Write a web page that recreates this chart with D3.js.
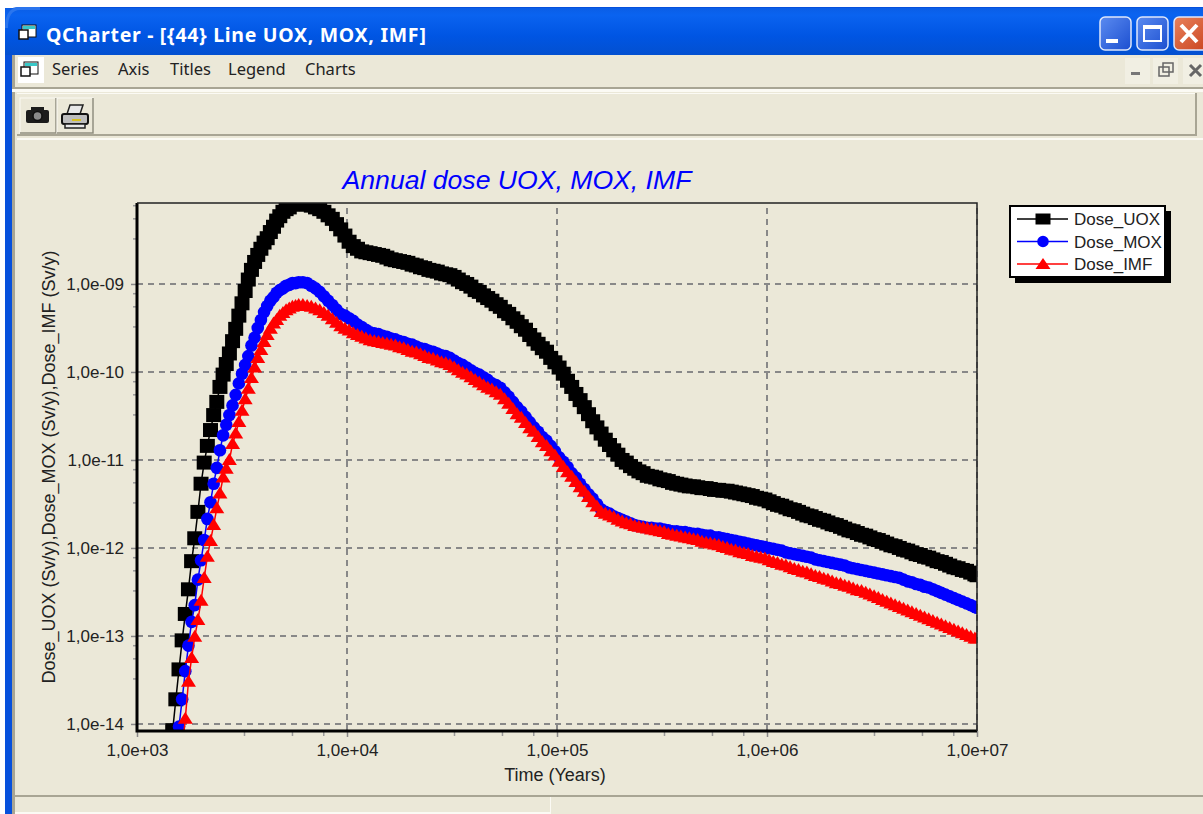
<!DOCTYPE html>
<html lang="en">
<head>
<meta charset="UTF-8">
<title>QCharter - Annual dose UOX, MOX, IMF</title>
<script src="https://d3js.org/d3.v7.min.js"></script>
<style>
html, body { margin: 0; padding: 0; background: #fff; overflow: hidden; }
svg { display: block; }
</style>
</head>
<body>
<svg id="chart" width="1203" height="814"></svg>
<script>
// log10 of time in years, shared by the three series
const logYears = [3.00,
3.170,3.185,3.200,3.215,3.230,3.245,3.260,3.275,3.290,3.305,
3.320,3.335,3.350,3.365,3.380,3.395,3.410,3.425,3.440,3.455,
3.470,3.485,3.500,3.515,3.530,3.545,3.560,3.575,3.590,3.605,
3.620,3.635,3.650,3.665,3.680,3.695,3.710,3.725,3.740,3.755,
3.770,
3.79,3.81,3.83,3.85,3.87,3.89,3.91,3.93,3.95,3.97,
3.99,4.01,4.03,4.05,4.07,4.09,4.11,4.13,4.15,4.17,
4.19,4.21,4.23,4.25,4.27,4.29,4.31,4.33,4.35,4.37,
4.39,4.41,4.43,4.45,4.47,4.49,4.51,4.53,4.55,4.57,
4.59,4.61,4.63,4.65,4.67,4.69,4.71,4.73,4.75,4.77,
4.79,4.81,4.83,4.85,4.87,4.89,4.91,4.93,4.95,4.97,
4.99,5.01,5.03,5.05,5.07,5.09,5.11,5.13,5.15,5.17,
5.19,5.21,5.23,5.25,5.27,5.29,5.31,5.33,5.35,5.37,
5.39,5.41,5.43,5.45,5.47,5.49,5.51,5.53,5.55,5.57,
5.59,5.61,5.63,5.65,5.67,5.69,5.71,5.73,5.75,5.77,
5.79,5.81,5.83,5.85,5.87,5.89,5.91,5.93,5.95,5.97,
5.99,6.01,6.03,6.05,6.07,6.09,6.11,6.13,6.15,6.17,
6.19,6.21,6.23,6.25,6.27,6.29,6.31,6.33,6.35,6.37,
6.39,6.41,6.43,6.45,6.47,6.49,6.51,6.53,6.55,6.57,
6.59,6.61,6.63,6.65,6.67,6.69,6.71,6.73,6.75,6.77,
6.79,6.81,6.83,6.85,6.87,6.89,6.91,6.93,6.95,6.97,
6.99,7.00];

// log10 of the dose (Sv/y)
const doseUox = [-16.0,
-14.07,-13.72,-13.38,-13.05,-12.75,-12.47,-12.15,-11.89,-11.59,-11.27,
-11.03,-10.84,-10.66,-10.49,-10.34,-10.17,-10.03,-9.91,-9.79,-9.65,
-9.51,-9.36,-9.22,-9.08,-8.95,-8.84,-8.75,-8.67,-8.60,-8.53,
-8.48,-8.41,-8.35,-8.28,-8.23,-8.18,-8.15,-8.13,-8.10,-8.09,
-8.09,
-8.09,-8.10,-8.11,-8.13,-8.15,-8.18,-8.22,-8.26,-8.32,-8.38,
-8.45,-8.52,-8.57,-8.60,-8.63,-8.64,-8.65,-8.66,-8.67,-8.68,
-8.70,-8.72,-8.73,-8.74,-8.75,-8.76,-8.78,-8.79,-8.81,-8.82,
-8.84,-8.85,-8.86,-8.88,-8.89,-8.90,-8.92,-8.95,-8.98,-9.00,
-9.03,-9.07,-9.09,-9.13,-9.16,-9.19,-9.23,-9.26,-9.31,-9.34,
-9.39,-9.43,-9.48,-9.52,-9.58,-9.63,-9.68,-9.73,-9.77,-9.84,
-9.89,-9.95,-10.02,-10.10,-10.17,-10.25,-10.32,-10.40,-10.48,-10.56,
-10.63,-10.70,-10.77,-10.83,-10.89,-10.94,-11.00,-11.03,-11.07,-11.10,
-11.13,-11.15,-11.18,-11.19,-11.20,-11.22,-11.23,-11.24,-11.26,-11.27,
-11.28,-11.29,-11.30,-11.30,-11.31,-11.32,-11.32,-11.33,-11.34,-11.34,
-11.35,-11.35,-11.36,-11.37,-11.38,-11.39,-11.40,-11.41,-11.43,-11.44,
-11.45,-11.47,-11.49,-11.51,-11.52,-11.54,-11.56,-11.57,-11.59,-11.61,
-11.63,-11.64,-11.66,-11.68,-11.69,-11.71,-11.73,-11.74,-11.76,-11.78,
-11.80,-11.81,-11.83,-11.85,-11.86,-11.88,-11.90,-11.91,-11.93,-11.95,
-11.97,-11.98,-12.00,-12.02,-12.03,-12.05,-12.07,-12.08,-12.10,-12.11,
-12.13,-12.15,-12.16,-12.18,-12.20,-12.22,-12.23,-12.25,-12.26,-12.28,
-12.30,-12.31];

const doseMox = [-14.15,
-14.64,-14.32,-14.03,-13.72,-13.40,-13.11,-12.84,-12.65,-12.36,-12.14,
-11.91,-11.67,-11.48,-11.27,-11.09,-10.89,-10.72,-10.60,-10.49,-10.38,
-10.26,-10.13,-10.02,-9.92,-9.82,-9.70,-9.61,-9.50,-9.41,-9.32,
-9.25,-9.19,-9.15,-9.10,-9.07,-9.05,-9.02,-9.01,-8.99,-8.99,
-8.98,
-8.98,-8.99,-9.02,-9.05,-9.09,-9.14,-9.19,-9.24,-9.29,-9.34,
-9.36,-9.39,-9.42,-9.46,-9.49,-9.52,-9.55,-9.56,-9.57,-9.59,
-9.60,-9.62,-9.63,-9.65,-9.66,-9.68,-9.69,-9.71,-9.73,-9.74,
-9.76,-9.77,-9.79,-9.81,-9.82,-9.84,-9.87,-9.90,-9.92,-9.95,
-9.98,-10.01,-10.03,-10.06,-10.09,-10.13,-10.15,-10.18,-10.23,-10.28,
-10.34,-10.40,-10.45,-10.51,-10.57,-10.63,-10.68,-10.74,-10.78,-10.84,
-10.90,-10.97,-11.02,-11.08,-11.15,-11.20,-11.27,-11.33,-11.39,-11.44,
-11.50,-11.56,-11.59,-11.61,-11.64,-11.66,-11.68,-11.70,-11.72,-11.74,
-11.75,-11.76,-11.77,-11.77,-11.78,-11.78,-11.79,-11.80,-11.81,-11.81,
-11.82,-11.82,-11.83,-11.84,-11.84,-11.85,-11.86,-11.86,-11.88,-11.88,
-11.89,-11.90,-11.91,-11.92,-11.93,-11.94,-11.95,-11.96,-11.97,-11.98,
-11.99,-12.00,-12.01,-12.02,-12.03,-12.05,-12.06,-12.07,-12.08,-12.09,
-12.10,-12.11,-12.13,-12.14,-12.15,-12.16,-12.17,-12.18,-12.19,-12.20,
-12.22,-12.23,-12.24,-12.25,-12.26,-12.27,-12.28,-12.29,-12.30,-12.31,
-12.32,-12.33,-12.34,-12.36,-12.38,-12.39,-12.41,-12.42,-12.44,-12.45,
-12.47,-12.49,-12.51,-12.53,-12.55,-12.57,-12.59,-12.61,-12.63,-12.65,
-12.67,-12.68];

const doseImf = [-16.0,
-15.66,-15.20,-14.75,-14.30,-13.94,-13.52,-13.25,-13.01,-12.82,-12.60,
-12.34,-12.10,-11.92,-11.74,-11.55,-11.38,-11.20,-11.10,-11.00,-10.82,
-10.70,-10.57,-10.44,-10.31,-10.19,-10.07,-9.95,-9.84,-9.75,-9.66,
-9.58,-9.51,-9.45,-9.41,-9.36,-9.33,-9.30,-9.28,-9.26,-9.25,
-9.24,
-9.24,-9.25,-9.26,-9.28,-9.30,-9.33,-9.36,-9.40,-9.44,-9.48,
-9.51,-9.53,-9.56,-9.58,-9.60,-9.62,-9.64,-9.65,-9.66,-9.67,
-9.68,-9.69,-9.70,-9.72,-9.73,-9.75,-9.77,-9.78,-9.80,-9.82,
-9.84,-9.85,-9.87,-9.89,-9.90,-9.92,-9.95,-9.98,-10.01,-10.03,
-10.06,-10.09,-10.12,-10.15,-10.18,-10.20,-10.23,-10.26,-10.31,-10.36,
-10.42,-10.48,-10.52,-10.58,-10.64,-10.68,-10.74,-10.80,-10.84,-10.90,
-10.95,-11.02,-11.08,-11.14,-11.19,-11.25,-11.31,-11.36,-11.42,-11.48,
-11.53,-11.59,-11.61,-11.63,-11.65,-11.68,-11.70,-11.72,-11.73,-11.75,
-11.76,-11.77,-11.78,-11.79,-11.80,-11.81,-11.82,-11.84,-11.85,-11.86,
-11.87,-11.88,-11.89,-11.90,-11.91,-11.93,-11.94,-11.95,-11.96,-11.97,
-11.99,-12.00,-12.02,-12.03,-12.05,-12.06,-12.07,-12.09,-12.10,-12.11,
-12.12,-12.14,-12.16,-12.17,-12.19,-12.20,-12.22,-12.24,-12.25,-12.27,
-12.28,-12.30,-12.32,-12.33,-12.35,-12.36,-12.38,-12.40,-12.41,-12.43,
-12.44,-12.46,-12.48,-12.49,-12.51,-12.53,-12.55,-12.57,-12.59,-12.61,
-12.63,-12.65,-12.67,-12.69,-12.71,-12.73,-12.75,-12.77,-12.79,-12.81,
-12.83,-12.85,-12.87,-12.89,-12.91,-12.93,-12.95,-12.97,-12.99,-13.01,
-13.03,-13.03];

const xTicks = [1e3, 1e4, 1e5, 1e6, 1e7];
const xTickLabels = ["1,0e+03", "1,0e+04", "1,0e+05", "1,0e+06", "1,0e+07"];
const yTicks = [1e-14, 1e-13, 1e-12, 1e-11, 1e-10, 1e-9];
const yTickLabels = ["1,0e-14", "1,0e-13", "1,0e-12", "1,0e-11", "1,0e-10", "1,0e-09"];
const minorSteps = [3.25, 5.5, 7.75];
const menuItems = ["Series", "Axis", "Titles", "Legend", "Charts"];
const menuX = [52, 118, 170, 228, 305];
const seriesNames = ["Dose_UOX", "Dose_MOX", "Dose_IMF"];
const seriesColors = ["#000000", "#0000ff", "#ff0000"];

const svg = d3.select("#chart");
const face = "#ebe8d8";
const uiFont = "'Noto Sans', sans-serif";
const chartFont = "'Liberation Sans', Arial, sans-serif";

// ---- window chrome ----
const defs = svg.append("defs");
const titleGrad = defs.append("linearGradient").attr("id", "titleGrad").attr("x2", 0).attr("y2", 1);
titleGrad.append("stop").attr("offset", 0).attr("stop-color", "#0b5ee6");
titleGrad.append("stop").attr("offset", 0.15).attr("stop-color", "#0a63f0");
titleGrad.append("stop").attr("offset", 0.6).attr("stop-color", "#0055e3");
titleGrad.append("stop").attr("offset", 1).attr("stop-color", "#0350d0");
const edgeGrad = defs.append("linearGradient").attr("id", "btnBlue").attr("x2", 1).attr("y2", 1);
edgeGrad.append("stop").attr("offset", 0).attr("stop-color", "#5b8bf0");
edgeGrad.append("stop").attr("offset", 1).attr("stop-color", "#1c4fd0");
const redGrad = defs.append("linearGradient").attr("id", "btnRed").attr("x2", 1).attr("y2", 1);
redGrad.append("stop").attr("offset", 0).attr("stop-color", "#e8825c");
redGrad.append("stop").attr("offset", 1).attr("stop-color", "#c8401c");

const rect = (x, y, w, h, fill) => svg.append("rect")
    .attr("x", x).attr("y", y).attr("width", w).attr("height", h).attr("fill", fill);

svg.append("path").attr("d", "M5,814V20Q5,7 20,7H1203V814Z").attr("fill", "#0650dc");
rect(5, 8, 1198, 47, "url(#titleGrad)");
rect(12, 55, 1191, 759, "#a8a594");
rect(15, 55, 1188, 759, face);
svg.append("path").attr("d", "M5,28Q5,7 20,7H40V10H20Q8,10 8,28Z").attr("fill", "#2a75ee");

// separators under menu and toolbar
rect(12, 87, 1191, 2, "#a8a594");
rect(12, 89, 1191, 3, "#fbfaf4");
rect(17, 93, 1179, 1, "#fbfaf4");
rect(17, 134, 1179, 2, "#a8a594");
rect(17, 138, 1186, 2, "#fbfaf4");
rect(1195, 93, 2, 43, "#a8a594");

// status bar
rect(15, 795, 1188, 2, "#a8a594");
rect(15, 797, 535, 16, face);
rect(550, 797, 1, 17, "#fbfaf4");
rect(15, 812, 535, 2, "#fbfaf4");

svg.append("text").attr("x", 46).attr("y", 42)
    .attr("textLength", 380).attr("lengthAdjust", "spacing")
    .attr("font-family", uiFont).attr("font-weight", 700).attr("font-size", 19.5)
    .attr("fill", "#fff").text("QCharter - [{44} Line UOX, MOX, IMF]");

svg.append("g").selectAll("text").data(menuItems).join("text")
    .attr("x", (d, i) => menuX[i]).attr("y", 75)
    .attr("font-family", uiFont).attr("font-size", 16.5).attr("fill", "#222")
    .text(d => d);

// app icons (title bar and menu bar)
function appIcon(x, y) {
    rect(x, y, 14, 12, "#fff").attr("stroke", "#111").attr("stroke-width", 1);
    rect(x + 1, y + 1, 12, 3, "#38c8c8");
    rect(x - 3, y + 5, 9, 9, "#fff").attr("stroke", "#111").attr("stroke-width", 1.5);
}
appIcon(22, 25);
rect(18, 57, 26, 26, "#fff");
appIcon(24, 62);

// toolbar buttons
function toolButton(x) {
    rect(x, 98, 36, 35, face).attr("stroke", "#fbfaf4");
    svg.append("path").attr("d", `M${x + 36},98V133H${x}`).attr("fill", "none").attr("stroke", "#8f8c7c").attr("stroke-width", 1.5);
}
toolButton(20);
toolButton(57);
rect(26, 110, 23, 13, "#1c1c1c").attr("rx", 2);
rect(31, 107, 13, 4, "#1c1c1c");
svg.append("circle").attr("cx", 37.5).attr("cy", 116).attr("r", 4.5).attr("fill", "#8a8a8a").attr("stroke", "#111").attr("stroke-width", 1.5);
svg.append("path").attr("d", "M67,114L70,105H83L80,114Z").attr("fill", "#e8e8e8").attr("stroke", "#222").attr("stroke-width", 1.5);
rect(62, 114, 26, 10, "#bdbdbd").attr("stroke", "#111").attr("stroke-width", 2).attr("rx", 2);
rect(65, 124, 20, 4, "#e8e8e8").attr("stroke", "#222").attr("stroke-width", 1.5);
rect(72, 119, 9, 2, "#d8c020");

// window control buttons
function winButton(x, w, fill) {
    rect(x, 17, w, 33, fill).attr("rx", 5).attr("stroke", "#dfe8fb").attr("stroke-width", 1.5);
}
winButton(1100, 31, "url(#btnBlue)");
winButton(1137, 31, "url(#btnBlue)");
winButton(1174, 40, "url(#btnRed)");
rect(1106, 39, 12, 4, "#fff");
rect(1144, 26, 17, 15, "none").attr("stroke", "#fff").attr("stroke-width", 2);
rect(1144, 25, 17, 4, "#fff");
svg.append("path").attr("d", "M1181,25L1197,42M1197,25L1181,42").attr("stroke", "#fff").attr("stroke-width", 4);

// MDI child buttons
[1125, 1153, 1183].forEach(x => rect(x, 58, 25, 26, "#f1efe3"));
rect(1131, 72, 9, 3, "#777");
rect(1159, 67, 10, 9, "none").attr("stroke", "#666").attr("stroke-width", 1.5);
rect(1163, 63, 10, 9, "none").attr("stroke", "#666").attr("stroke-width", 1.5);
svg.append("path").attr("d", "M1190,65L1201,76M1201,65L1190,76").attr("stroke", "#666").attr("stroke-width", 3);

// ---- chart ----
const plot = { left: 137, right: 977, top: 203, bottom: 731 };

const x = d3.scaleLog().domain([1e3, 1e7]).range([plot.left, plot.right]);
const y = d3.scaleLog().domain([Math.pow(10, -14.08), Math.pow(10, -8.08)]).range([plot.bottom, plot.top]);

svg.append("text").attr("x", 517).attr("y", 189).attr("text-anchor", "middle")
    .attr("font-family", chartFont).attr("font-style", "italic").attr("font-size", 26.6)
    .attr("fill", "#0000ff").text("Annual dose UOX, MOX, IMF");

// gridlines
const grid = svg.append("g").attr("stroke", "#888").attr("stroke-width", 2).attr("stroke-dasharray", "6,5");
grid.selectAll(".gx").data(xTicks.slice(1)).join("line").attr("class", "gx")
    .attr("x1", d => x(d)).attr("x2", d => x(d)).attr("y1", plot.bottom).attr("y2", plot.top);
grid.selectAll(".gy").data(yTicks).join("line").attr("class", "gy")
    .attr("x1", plot.left).attr("x2", plot.right).attr("y1", d => y(d)).attr("y2", d => y(d));

defs.append("clipPath").attr("id", "plotClip").append("rect")
    .attr("x", plot.left).attr("y", plot.top)
    .attr("width", plot.right - plot.left).attr("height", plot.bottom - plot.top);

// the reference markers are a bit wider than tall, so draw the boxes by hand
const boxSymbol = (w, h) => ({ draw(ctx) { ctx.rect(-w / 2, -h / 2, w, h); } });
const triSymbol = (w, up, down) => ({
    draw(ctx) {
        ctx.moveTo(0, -up);
        ctx.lineTo(w / 2, down);
        ctx.lineTo(-w / 2, down);
        ctx.closePath();
    }
});
const symbols = [
    d3.symbol().type(boxSymbol(15, 14)),
    d3.symbol().type(d3.symbolCircle).size(125),
    d3.symbol().type(triSymbol(15, 7, 5))
];
const legendSymbols = [
    d3.symbol().type(boxSymbol(15, 11)),
    d3.symbol().type(d3.symbolCircle).size(105),
    d3.symbol().type(triSymbol(15, 6, 5))
];

const line = d3.line().x(d => x(d[0])).y(d => y(d[1]));
const marks = svg.append("g").attr("clip-path", "url(#plotClip)");

[doseUox, doseMox, doseImf].forEach((values, s) => {
    const pts = values.map((v, i) => [Math.pow(10, logYears[i]), Math.pow(10, v)]);
    const g = marks.append("g");
    g.append("path").attr("d", line(pts)).attr("fill", "none")
        .attr("stroke", seriesColors[s]).attr("stroke-width", 1.5);
    g.selectAll("path.m").data(pts).join("path").attr("class", "m")
        .attr("d", symbols[s])
        .attr("fill", seriesColors[s])
        .attr("transform", d => `translate(${x(d[0])},${y(d[1])})`);
});

// axes
const xAxis = svg.append("g").attr("transform", `translate(0,${plot.bottom})`)
    .call(d3.axisBottom(x).tickValues(xTicks).tickFormat((d, i) => xTickLabels[i]).tickSize(6).tickPadding(7));
const yAxis = svg.append("g").attr("transform", `translate(${plot.left},0)`)
    .call(d3.axisLeft(y).tickValues(yTicks).tickFormat((d, i) => yTickLabels[i]).tickSize(6).tickPadding(7));

[xAxis, yAxis].forEach(a => {
    a.select(".domain").remove();
    a.selectAll("line").attr("stroke", "#888").attr("stroke-width", 1.5);
    a.selectAll("text").attr("font-family", chartFont).attr("font-size", 17).attr("fill", "#222");
});

// minor ticks: three per decade
const minorX = xTicks.slice(0, -1).flatMap(t => minorSteps.map(m => t * m));
const minorY = yTicks.flatMap(t => minorSteps.map(m => t * m)).filter(v => y(v) > plot.top);
svg.append("g").attr("stroke", "#999").attr("stroke-width", 1.5).selectAll("line").data(minorX).join("line")
    .attr("x1", d => x(d)).attr("x2", d => x(d)).attr("y1", plot.bottom).attr("y2", plot.bottom + 5);
svg.append("g").attr("stroke", "#999").attr("stroke-width", 1.5).selectAll("line").data(minorY).join("line")
    .attr("x1", plot.left - 4).attr("x2", plot.left).attr("y1", d => y(d)).attr("y2", d => y(d));

// frame
svg.append("path").attr("d", `M${plot.left},${plot.top}V${plot.bottom}H${plot.right}`)
    .attr("fill", "none").attr("stroke", "#000").attr("stroke-width", 3);
svg.append("path").attr("d", `M${plot.left},${plot.top}H${plot.right}V${plot.bottom}`)
    .attr("fill", "none").attr("stroke", "#222").attr("stroke-width", 1.5);

svg.append("text").attr("x", 555).attr("y", 781).attr("text-anchor", "middle")
    .attr("font-family", chartFont).attr("font-size", 18).attr("fill", "#222").text("Time (Years)");
svg.append("text").attr("transform", "translate(55,467) rotate(-90)").attr("text-anchor", "middle")
    .attr("font-family", chartFont).attr("font-size", 18).attr("fill", "#222")
    .text("Dose_UOX (Sv/y),Dose_MOX (Sv/y),Dose_IMF (Sv/y)");

// legend
rect(1015, 211, 156, 72, "#000");
rect(1010, 206, 155, 71, "#fff").attr("stroke", "#000").attr("stroke-width", 2);
const legendY = d3.scalePoint().domain(seriesNames).range([219, 264]);
const legend = svg.append("g").selectAll("g").data(seriesNames).join("g")
    .attr("transform", d => `translate(0,${legendY(d)})`);
legend.append("line").attr("x1", 1017).attr("x2", 1068).attr("stroke", (d, i) => seriesColors[i]).attr("stroke-width", 1.5);
legend.append("path").attr("d", (d, i) => legendSymbols[i]()).attr("fill", (d, i) => seriesColors[i])
    .attr("transform", "translate(1043,0)");
legend.append("text").attr("x", 1074).attr("y", 6)
    .attr("font-family", chartFont).attr("font-size", 17).attr("fill", "#222").text(d => d);
</script>
</body>
</html>
